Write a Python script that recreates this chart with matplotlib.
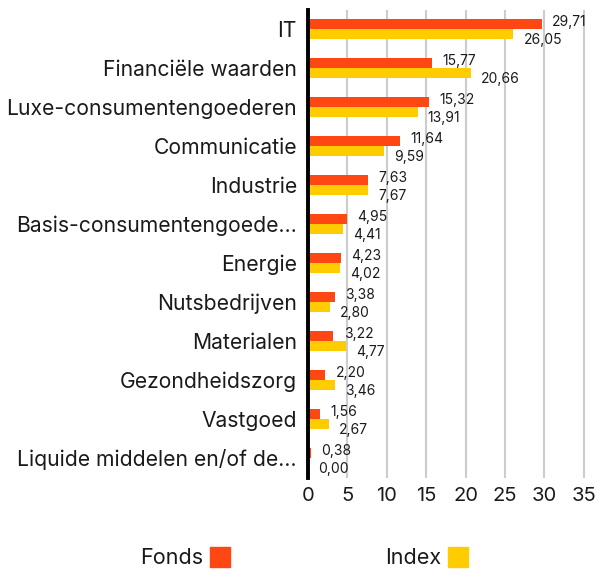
import matplotlib
matplotlib.use("Agg")
import matplotlib.pyplot as plt
from matplotlib.patches import Rectangle

categories = ["IT", "Financiële waarden", "Luxe-consumentengoederen", "Communicatie",
              "Industrie", "Basis-consumentengoede…", "Energie", "Nutsbedrijven",
              "Materialen", "Gezondheidszorg", "Vastgoed", "Liquide middelen en/of de…"]
fonds = [29.71, 15.77, 15.32, 11.64, 7.63, 4.95, 4.23, 3.38, 3.22, 2.20, 1.56, 0.38]
index = [26.05, 20.66, 13.91, 9.59, 7.67, 4.41, 4.02, 2.80, 4.77, 3.46, 2.67, 0.00]
ticks = [0, 5, 10, 15, 20, 25, 30, 35]

c_fonds = "#ff4713"
c_index = "#ffcc00"
txt = "#1a1a1a"
plt.rcParams["font.family"] = ["Inter", "DejaVu Sans"]

fig = plt.figure(figsize=(5.98, 5.71), dpi=100)
ax = fig.add_axes([308 / 598, 1 - 477.5 / 571, 290 / 598, 468 / 571])

h = 0.25
for i, (f, x) in enumerate(zip(fonds, index)):
    ax.barh(i - h / 2, f, height=h, color=c_fonds, zorder=3)
    ax.barh(i + h / 2, x, height=h, color=c_index, zorder=3)
    ax.text(f + 1.3, i - 0.19, f"{f:.2f}".replace(".", ","), fontsize=10,
            va="center", ha="left", color=txt)
    ax.text(x + 1.3, i + 0.27, f"{x:.2f}".replace(".", ","), fontsize=10,
            va="center", ha="left", color=txt)

ax.set_xlim(0, 290 / 7.88)
ax.set_ylim(len(categories) - 0.5, -0.5)
ax.set_yticks(range(len(categories)))
ax.set_yticklabels(categories, fontsize=15.2, color=txt)
ax.set_xticks(ticks)
ax.set_xticklabels([str(t) for t in ticks], fontsize=14.5, color=txt)
ax.tick_params(length=0, pad=7)
ax.tick_params(axis="y", pad=8)
ax.grid(axis="x", color="#cccccc", linewidth=1.5, zorder=0)
for s in ["top", "right", "bottom"]:
    ax.spines[s].set_visible(False)
ax.spines["left"].set_linewidth(2.8)
ax.spines["left"].set_color("black")
ax.spines["left"].set_zorder(4)

# legend at the bottom
fig.text(203 / 598, 1 - 558 / 571, "Fonds", fontsize=15.5, ha="right", va="center", color=txt)
fig.patches.append(Rectangle((210 / 598, 1 - 567 / 571), 20 / 598, 20 / 571,
                             transform=fig.transFigure, color=c_fonds))
fig.text(441 / 598, 1 - 558 / 571, "Index", fontsize=15.5, ha="right", va="center", color=txt)
fig.patches.append(Rectangle((448 / 598, 1 - 567 / 571), 20 / 598, 20 / 571,
                             transform=fig.transFigure, color=c_index))

fig.savefig("out.png", dpi=100)
